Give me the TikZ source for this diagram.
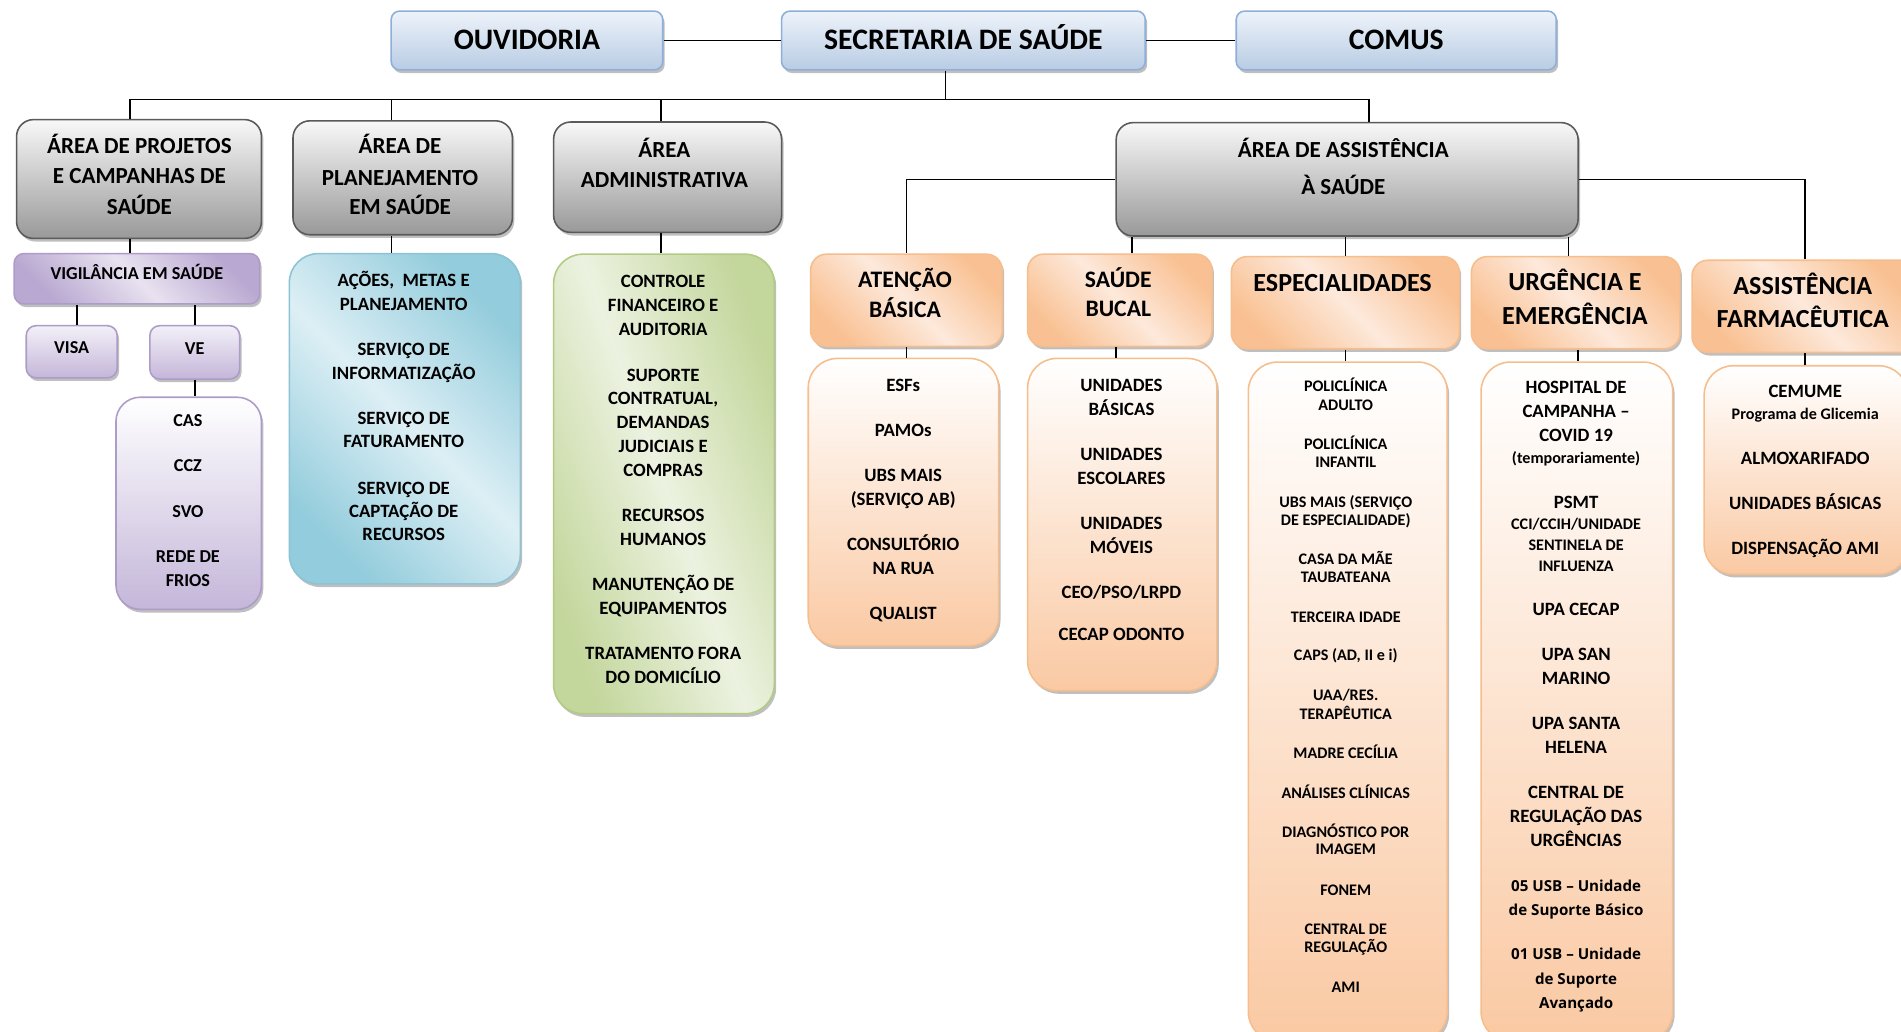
\documentclass[tikz,border=0pt]{standalone}
\usepackage{fontspec}
\setmainfont{Carlito}
\newfontfamily\opensans{Open Sans}
\usetikzlibrary{shadows}

% palette
\definecolor{topT}{HTML}{EEF3FA}
\definecolor{topB}{HTML}{B8CCE4}
\definecolor{topD}{HTML}{8EAFD8}
\definecolor{grayT}{HTML}{F8F8F8}
\definecolor{grayB}{HTML}{999999}
\definecolor{grayD}{HTML}{5A5A5A}
\definecolor{purD}{HTML}{B9A8D1}
\definecolor{purL}{HTML}{E8E2F0}
\definecolor{purT}{HTML}{F3F0F8}
\definecolor{purB}{HTML}{C4B6D9}
\definecolor{purE}{HTML}{AE9CC8}
\definecolor{bluD}{HTML}{93CCDC}
\definecolor{bluL}{HTML}{DDEFF5}
\definecolor{bluE}{HTML}{8DC3D4}
\definecolor{grnD}{HTML}{C3D69B}
\definecolor{grnL}{HTML}{ECF2E0}
\definecolor{grnE}{HTML}{B2CB84}
\definecolor{orD}{HTML}{F9C193}
\definecolor{orL}{HTML}{FDE9DB}
\definecolor{orE}{HTML}{F7BE8D}
\definecolor{orB}{HTML}{FAC9A3}

\tikzset{
  conn/.style={draw=black, line width=1.3pt},
  box/.style={draw, line width=1.3pt, rounded corners=#1, inner sep=0pt, anchor=north west,
    drop shadow={shadow xshift=1.6pt, shadow yshift=-2.6pt, opacity=0.25, fill=black}},
  box/.default=10pt,
  % three-stop diagonal shading: light band between two darker corners
  diag/.style n args={3}{left color=#1, right color=#1, middle color=#2, shading angle=#3},
  topbox/.style={box=7pt, draw=topD, top color=topT, bottom color=topB,
    font=\fontsize{24.5}{29}\selectfont\bfseries, text height=15.5pt, text depth=0pt},
  graybox/.style={box=14pt, draw=grayD, top color=grayT, bottom color=grayB},
  vigbox/.style={box=8pt, draw=purE, diag={purD}{purL}{-45},
    font=\fontsize{15}{18}\selectfont\bfseries, text height=9.5pt, text depth=8pt},
  purbox/.style={box=8pt, draw=purE, top color=purT, bottom color=purB,
    font=\fontsize{15}{18}\selectfont\bfseries, text height=9.5pt, text depth=6pt},
  purlist/.style={box=20pt, draw=purE, top color=white, bottom color=purB},
  blulist/.style={box=24pt, draw=bluE, diag={bluD}{bluL}{-45}},
  grnlist/.style={box=24pt, draw=grnE, diag={grnD}{grnL}{-70}},
  orhead/.style={box=13pt, draw=orE, diag={orD}{orL}{-45}},
  orlist/.style={box=24pt, draw=orE, top color=white, bottom color=orB},
  ln/.style={inner sep=0pt, anchor=base},
  t-gray/.style={ln, yshift=-6pt, font=\fontsize{19}{22}\selectfont\bfseries},
  t-head/.style={ln, yshift=-6.8pt, font=\fontsize{21.5}{25}\selectfont\bfseries},
  t-heads/.style={ln, yshift=-6.2pt, font=\fontsize{19.5}{23}\selectfont\bfseries},
  t-list/.style={ln, yshift=-4.9pt, font=\fontsize{15.5}{18}\selectfont\bfseries},
  t-pur/.style={ln, yshift=-4.7pt, font=\fontsize{15}{18}\selectfont\bfseries},
  t-small/.style={ln, yshift=-4.2pt, font=\fontsize{13.3}{16}\selectfont\bfseries},
  t-os/.style={ln, yshift=-4.5pt, font=\opensans\fontsize{12.5}{15}\selectfont\bfseries},
}

\begin{document}
\begin{tikzpicture}[x=1pt, y=-1pt]
\useasboundingbox (0,0) rectangle (1568,851);
\clip (0,0) rectangle (1568,851);
\fill[white] (0,0) rectangle (1568,851);

% ---------- top row ----------
\node[topbox, minimum width=224pt, minimum height=48.5pt] (ouv) at (322,8.5) {OUVIDORIA};
\node[topbox, minimum width=300pt, minimum height=48.5pt] (sec) at (644,8.5) {SECRETARIA DE SAÚDE};
\node[topbox, minimum width=264pt, minimum height=48.5pt] (com) at (1019,8.5) {COMUS};

% ---------- areas ----------
\node[graybox, minimum width=202pt, minimum height=98pt] (g1) at (13,98) {};
\node[graybox, minimum width=181pt, minimum height=94pt] (g2) at (241,99) {};
\node[graybox, minimum width=188pt, minimum height=91pt] (g3) at (456,100) {};
\node[graybox, minimum width=381pt, minimum height=93.5pt] (g4) at (920,100.5) {};

\foreach \yy/\tx [count=\i] in {121/{ÁREA DE PROJETOS}, 145.7/{E CAMPANHAS DE}, 171/SAÚDE}
  \node[t-gray] (g1-\i) at (115,\yy) {\tx};
\foreach \yy/\tx [count=\i] in {121/{ÁREA DE}, 147/PLANEJAMENTO, 171/{EM SAÚDE}}
  \node[t-gray] (g2-\i) at (330,\yy) {\tx};
\foreach \yy/\tx [count=\i] in {123.7/ÁREA, 148.5/ADMINISTRATIVA}
  \node[t-gray] (g3-\i) at (548,\yy) {\tx};
\foreach \yy/\tx [count=\i] in {123.7/{ÁREA DE ASSISTÊNCIA}, 154.8/{À SAÚDE}}
  \node[t-gray] (g4-\i) at (1108,\yy) {\tx};

% ---------- vigilância ----------
\node[vigbox, minimum width=202.5pt, minimum height=41.5pt] (vig) at (11,208.5) {VIGILÂNCIA EM SAÚDE};
\node[purbox, minimum width=75pt, minimum height=43pt] (visa) at (21,268) {VISA};
\node[purbox, minimum width=74pt, minimum height=44pt] (ve) at (123,268) {VE};
\node[purlist, minimum width=120pt, minimum height=175pt] (velist) at (95,327) {};
\foreach \yy/\tx [count=\i] in {347.3/CAS, 384.4/CCZ, 422/SVO, 459/{REDE DE}, 479/FRIOS}
  \node[t-pur] (ve-\i) at (155,\yy) {\tx};

% ---------- planejamento ----------
\node[blulist, minimum width=190.5pt, minimum height=272.5pt] (blue) at (238,208.5) {};
\foreach \yy/\tx [count=\i] in {231/{AÇÕES,\ \ METAS E}, 251/PLANEJAMENTO, 288.5/{SERVIÇO DE},
    308/INFORMATIZAÇÃO, 345/{SERVIÇO DE}, 364/FATURAMENTO, 402.6/{SERVIÇO DE},
    422/{CAPTAÇÃO DE}, 441/RECURSOS}
  \node[t-list] (bl-\i) at (333,\yy) {\tx};

% ---------- administrativa ----------
\node[grnlist, minimum width=182pt, minimum height=379pt] (green) at (456,209) {};
\foreach \yy/\tx [count=\i] in {232.3/CONTROLE, 252/{FINANCEIRO E}, 271.6/AUDITORIA,
    310/SUPORTE, 329/{CONTRATUAL,}, 348.6/DEMANDAS, 368.4/{JUDICIAIS E}, 388/COMPRAS,
    425.6/RECURSOS, 445/HUMANOS, 482/{MANUTENÇÃO DE}, 501.8/EQUIPAMENTOS,
    539/{TRATAMENTO FORA}, 558.7/{DO DOMICÍLIO}}
  \node[t-list] (gr-\i) at (547,\yy) {\tx};

% ---------- assistência: headers ----------
\node[orhead, minimum width=158pt, minimum height=76pt] (hab) at (668,209) {};
\node[orhead, minimum width=152pt, minimum height=76pt] (hsb) at (847,209) {};
\node[orhead, minimum width=188pt, minimum height=76pt] (hesp) at (1015,211) {};
\node[orhead, minimum width=172pt, minimum height=76pt] (hurg) at (1213,211) {};
\node[orhead, minimum width=186pt, minimum height=76pt] (hfar) at (1395,214) {};

\foreach \yy/\tx [count=\i] in {231/ATENÇÃO, 255.7/BÁSICA}
  \node[t-heads] (hab-\i) at (746.5,\yy) {\tx};
\foreach \yy/\tx [count=\i] in {231/SAÚDE, 255/BUCAL}
  \node[t-heads] (hsb-\i) at (922.4,\yy) {\tx};
\node[t-head] (hesp-1) at (1107.4,233.7) {ESPECIALIDADES};
\foreach \yy/\tx [count=\i] in {233.1/{URGÊNCIA E}, 260.6/EMERGÊNCIA}
  \node[t-head] (hurg-\i) at (1299,\yy) {\tx};
\foreach \yy/\tx [count=\i] in {236.4/ASSISTÊNCIA, 263.1/FARMACÊUTICA}
  \node[t-head] (hfar-\i) at (1487,\yy) {\tx};

% ---------- assistência: lists ----------
\node[orlist, minimum width=157pt, minimum height=237pt] (lab) at (666,295) {};
\node[orlist, minimum width=156pt, minimum height=274pt] (lsb) at (847,295) {};
\node[orlist, minimum width=164pt, minimum height=560pt] (lesp) at (1029,298) {};
\node[orlist, minimum width=158pt, minimum height=560pt] (lurg) at (1221,298) {};
\node[orlist, minimum width=168pt, minimum height=172pt] (lfar) at (1405,301) {};

\foreach \yy/\tx [count=\i] in {318/ESFs, 355/PAMOs, 392.3/{UBS MAIS}, 411.9/{(SERVIÇO AB)},
    449/CONSULTÓRIO, 468.8/{NA RUA}, 505.9/QUALIST}
  \node[t-list] (ab-\i) at (745,\yy) {\tx};

\foreach \yy/\tx [count=\i] in {318/UNIDADES, 337.6/BÁSICAS, 375/UNIDADES, 394.5/ESCOLARES,
    432/UNIDADES, 451.4/MÓVEIS, 488.6/{CEO/PSO/LRPD}, 523.2/{CECAP ODONTO}}
  \node[t-list] (sb-\i) at (925,\yy) {\tx};

\foreach \yy/\tx [count=\i] in {318.4/POLICLÍNICA, 334/ADULTO, 366.2/POLICLÍNICA, 381.3/INFANTIL,
    414.3/{UBS MAIS (SERVIÇO}, 429.2/{DE ESPECIALIDADE)}, 461.3/{CASA DA MÃE}, 476.2/TAUBATEANA,
    509.2/{TERCEIRA IDADE}, 541/{CAPS (AD, II e i)}, 573.8/{UAA/RES.}, 589/TERAPÊUTICA,
    621.4/{MADRE CECÍLIA}, 654.3/{ANÁLISES CLÍNICAS}, 686.5/{DIAGNÓSTICO POR}, 701/IMAGEM,
    734.6/FONEM, 766.5/{CENTRAL DE}, 781.4/REGULAÇÃO, 814.3/AMI}
  \node[t-small] (es-\i) at (1110,\yy) {\tx};

\foreach \yy/\tx [count=\i] in {319.7/{HOSPITAL DE}, 339.5/{CAMPANHA –}, 359.3/{COVID 19},
    414.3/PSMT, 502.6/{UPA CECAP}, 540.2/{UPA SAN}, 559.5/MARINO, 597.2/{UPA SANTA},
    616.7/HELENA, 653.8/{CENTRAL DE}, 673.6/{REGULAÇÃO DAS}, 693.4/URGÊNCIAS}
  \node[t-list] (ur-\i) at (1300,\yy) {\tx};
\foreach \yy/\tx [count=\i] in {378/{(temporariamente)}, 432.5/{CCI/CCIH/UNIDADE},
    450/{SENTINELA DE}, 467.4/INFLUENZA}
  \node[t-small] (urs-\i) at (1300,\yy) {\tx};
\foreach \yy/\tx [count=\i] in {730.5/{05 USB – Unidade}, 750.6/{de Suporte Básico},
    787.2/{01 USB – Unidade}, 807.2/{de Suporte}, 827/Avançado}
  \node[t-os] (uro-\i) at (1300,\yy) {\tx};

\foreach \yy/\tx [count=\i] in {323/CEMUME, 378/ALMOXARIFADO, 415/{UNIDADES BÁSICAS},
    452.3/{DISPENSAÇÃO AMI}}
  \node[t-list] (fa-\i) at (1489,\yy) {\tx};
\node[t-small] (fa-prog) at (1489,341.8) {Programa de Glicemia};

% ---------- connectors ----------
\draw[conn] (ouv.east) -- (sec.west);
\draw[conn] (sec.east) -- (com.west);

\coordinate (bus1) at (107,82);
\coordinate (bus2) at (323,82);
\coordinate (bus3) at (545,82);
\coordinate (bus4) at (1129,82);
\coordinate (busc) at (780,82);
\draw[conn] (bus1) -- (bus4);
\draw[conn] (sec.south -| busc) -- (busc);
\draw[conn] (bus1) -- (g1.north -| bus1);
\draw[conn] (bus2) -- (g2.north -| bus2);
\draw[conn] (bus3) -- (g3.north -| bus3);
\draw[conn] (bus4) -- (g4.north -| bus4);

\draw[conn] (g1.south -| bus1) -- (vig.north -| bus1);
\draw[conn] ([xshift=4.5pt]visa.north) -- ([xshift=4.5pt]visa.north |- vig.south);
\draw[conn] (ve.north) -- (ve.north |- vig.south);
\draw[conn] (ve.south) -- (ve.south |- velist.north);
\draw[conn] (g2.south -| bus2) -- (blue.north -| bus2);
\draw[conn] (g3.south -| bus3) -- (green.north -| bus3);

\draw[conn] (g4.west) -| (hab.north);
\draw[conn] (g4.east) -| (hfar.north);
\draw[conn] ([xshift=10pt]hsb.north) -- ([xshift=10pt]hsb.north |- g4.south);
\draw[conn] (hesp.north) -- (hesp.north |- g4.south);
\draw[conn] ([xshift=-6pt]hurg.north) -- ([xshift=-6pt]hurg.north |- g4.south);

\draw[conn] (hab.south) -- (hab.south |- lab.north);
\draw[conn] ([xshift=-3pt]hsb.south) -- ([xshift=-3pt]hsb.south |- lsb.north);
\draw[conn] (hesp.south) -- (hesp.south |- lesp.north);
\draw[conn] ([xshift=2pt]hurg.south) -- ([xshift=2pt]hurg.south |- lurg.north);
\draw[conn] (hfar.south) -- (hfar.south |- lfar.north);
\end{tikzpicture}
\end{document}
